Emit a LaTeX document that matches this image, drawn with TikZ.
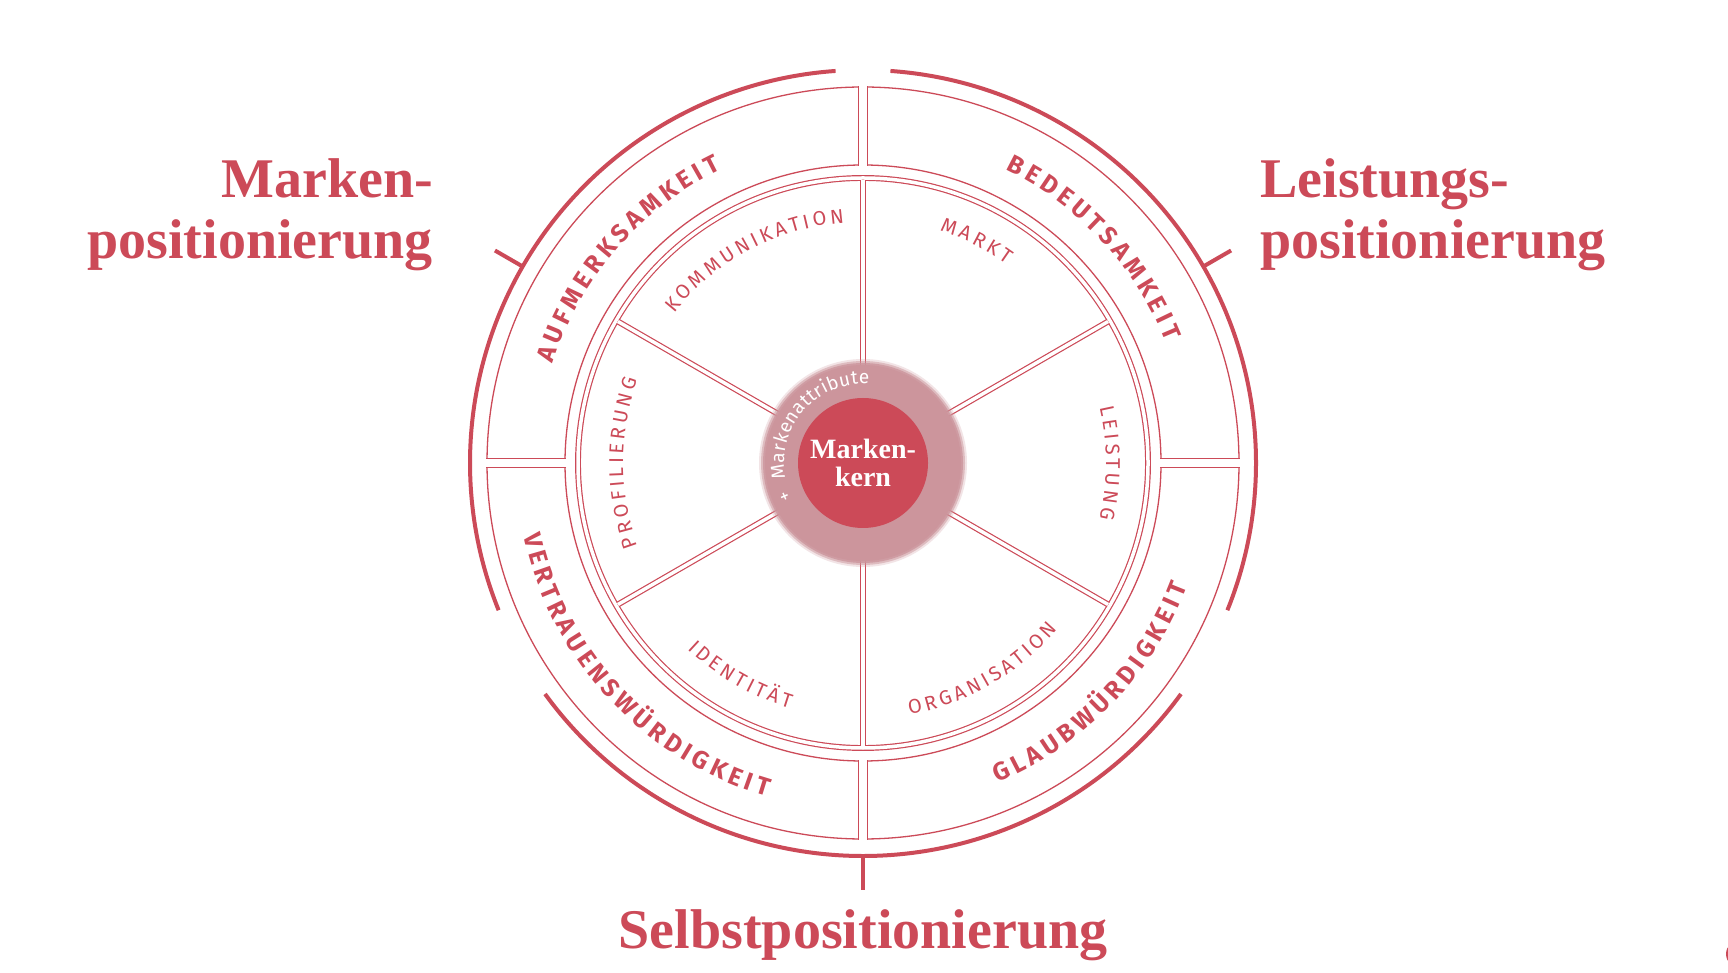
\documentclass[tikz,border=0pt]{standalone}
\usepackage{fontspec}
\setmainfont{Liberation Serif}
\setsansfont{Fira Sans}
\usetikzlibrary{calc}
\definecolor{brand}{HTML}{CC4A58}
\definecolor{halo}{HTML}{CC959C}
\newdimen\arcW
\newbox\arcBox
\newcommand\arcmeasure[2]{\setbox\arcBox\hbox{\pgfinterruptpicture#1#2\endpgfinterruptpicture}}
\newcommand\arcword[6]{%
 \global\arcW=0pt
 \foreach \c in {#6}{\arcmeasure{#4}{\c}\global\advance\arcW by \wd\arcBox \global\advance\arcW by #5pt}%
 \global\advance\arcW by -#5pt
 \pgfmathsetmacro\arcStart{#2 - (#3)*\the\arcW/(#1)*57.29578/2}%
 \global\let\arcCur\arcStart
 \foreach \c in {#6}{%
   \arcmeasure{#4}{\c}%
   \edef\arcWd{\the\wd\arcBox}%
   \pgfmathsetmacro\arcA{\arcCur + (#3)*(\arcWd/2)/(#1)*57.29578}%
   \pgfmathsetmacro\tmp{\arcCur + (#3)*(\arcWd+#5)/(#1)*57.29578}\global\let\arcCur\tmp
   \node[font={#4}, text=\arcCol, anchor=base, inner sep=0pt, rotate=\arcA+(#3)*90] at ($(C)+(\arcA:#1)$) {\c};
 }}
\def\arcCol{brand}
\begin{document}
\begin{tikzpicture}[x=1pt,y=1pt,
  thin/.style={draw=brand, line width=1.3pt},
  dbl/.style={draw=brand, line width=1.2pt, double=white, double distance=3.5pt},
  sep/.style={draw=brand, line width=1.3pt, double=white, double distance=8pt},
  thick/.style={draw=brand, line width=4pt},
  title/.style={font=\fontsize{56}{61}\selectfont\bfseries, text=brand, inner sep=0pt}]
\useasboundingbox (0,0) rectangle (1728,972);
\fill[white] (0,0) rectangle (1728,972);
\coordinate (C) at (863,509);
% outer thick arcs
\draw[thick] ($(C)+(94:393)$) arc (94:202:393);
\draw[thick] ($(C)+(-22:393)$) arc (-22:86:393);
\draw[thick] ($(C)+(216:393)$) arc (216:324:393);
\draw[thick] ($(C)+(150:393)$) -- ($(C)+(150:425)$);
\draw[thick] ($(C)+(30:393)$) -- ($(C)+(30:425)$);
\draw[thick] ($(C)+(270:393)$) -- ($(C)+(270:427)$);
% ring
\draw[thin] (C) circle (376);
\draw[thin] (C) circle (298);
\foreach \a in {0,90,180,270} \draw[sep] ($(C)+(\a:297)$) -- ($(C)+(\a:377)$);
% inner circle and spokes
\draw[dbl] (C) circle (285);
\foreach \a in {30,90,150,210,270,330} \draw[dbl] (C) -- ($(C)+(\a:283)$);
% halo and core
\foreach \r/\o in {104/0.25,102/0.5,100/0.8,98/1} \fill[halo, opacity=\o] (C) circle (\r);
\node[circle, fill=brand, minimum size=130pt, inner sep=0pt, text=white,
  font=\fontsize{28}{28}\selectfont\bfseries, align=center] (core) at (C) {Marken-\\kern};
\def\arcCol{white}
\arcword{79}{146}{-1}{\sffamily\fontsize{19}{19}\selectfont}{0.4}{+,\phantom{n},M,a,r,k,e,n,a,t,t,r,i,b,u,t,e}
\def\arcCol{brand}
% outer labels
\arcword{326}{139}{-1}{\sffamily\bfseries\fontsize{25}{25}\selectfont}{4.5}{A,U,F,M,E,R,K,S,A,M,K,E,I,T}
\arcword{326}{43}{-1}{\sffamily\bfseries\fontsize{25}{25}\selectfont}{4.5}{B,E,D,E,U,T,S,A,M,K,E,I,T}
\arcword{347}{-44}{1}{\sffamily\bfseries\fontsize{25}{25}\selectfont}{4.5}{G,L,A,U,B,W,Ü,R,D,I,G,K,E,I,T}
\arcword{347}{223}{1}{\sffamily\bfseries\fontsize{25}{25}\selectfont}{4.5}{V,E,R,T,R,A,U,E,N,S,W,Ü,R,D,I,G,K,E,I,T}
% inner labels
\arcword{241}{118}{-1}{\sffamily\fontsize{20}{20}\selectfont}{3.5}{K,O,M,M,U,N,I,K,A,T,I,O,N}
\arcword{245}{63}{-1}{\sffamily\fontsize{20}{20}\selectfont}{3.5}{M,A,R,K,T}
\arcword{243}{0}{-1}{\sffamily\fontsize{20}{20}\selectfont}{3.5}{L,E,I,S,T,U,N,G}
\arcword{240}{180}{-1}{\sffamily\fontsize{20}{20}\selectfont}{3.5}{P,R,O,F,I,L,I,E,R,U,N,G}
\arcword{256}{240}{1}{\sffamily\fontsize{20}{20}\selectfont}{3.5}{I,D,E,N,T,I,T,Ä,T}
\arcword{256}{300}{1}{\sffamily\fontsize{20}{20}\selectfont}{3.5}{O,R,G,A,N,I,S,A,T,I,O,N}
% titles
\node[title, anchor=base east, align=right] (t1) at (433,713) {Marken-\\positionierung};
\node[title, anchor=base west, align=left] (t2) at (1260,713) {Leistungs-\\positionierung};
\node[title, anchor=base] (t3) at (863,24) {Selbstpositionierung};
\fill[brand] (1740,18) circle (14);
\end{tikzpicture}
\end{document}
